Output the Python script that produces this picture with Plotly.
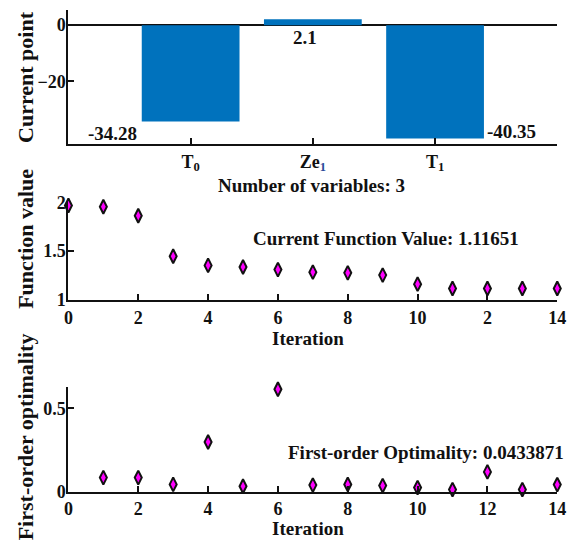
import plotly.graph_objects as go

# ---- data ----
var_names = ["T<sub>0</sub>", "Ze<sub><span style='color:#2a4a9a'>1</span></sub>", "T<sub>1</sub>"]
var_values = [-34.28, 2.1, -40.35]
var_labels = ["-34.28", "2.1", "-40.35"]

iterations = list(range(15))
fvals = [1.967, 1.954, 1.861, 1.447, 1.354, 1.338, 1.311, 1.285, 1.278, 1.255,
         1.162, 1.117, 1.117, 1.117, 1.117]

opt_iters = list(range(1, 15))
opt_vals = [0.085, 0.085, 0.044, 0.298, 0.033, 0.615, 0.040, 0.044, 0.037,
            0.025, 0.013, 0.119, 0.013, 0.043]

iter_ticks = [0, 2, 4, 6, 8, 10, 12, 14]
iter_ticklabels = ["0", "2", "4", "6", "8", "10", "2", "14"]

W, H = 577, 548
BLUE = "#0072BD"
INK = "#111111"
FONT = "Liberation Serif"

def px_x(p):
    return p / W

def px_y(p):
    return (H - p) / H

fig = go.Figure()

fig.add_trace(go.Bar(x=[1, 2, 3], y=var_values, width=0.8, marker=dict(color=BLUE, line=dict(width=0)),
                     xaxis="x", yaxis="y", showlegend=False))

marker = dict(symbol="diamond-tall", size=10, color="#ff00ff", line=dict(color=INK, width=2))
fig.add_trace(go.Scatter(x=iterations, y=fvals, mode="markers", marker=marker,
                         xaxis="x2", yaxis="y2", showlegend=False, cliponaxis=False))
fig.add_trace(go.Scatter(x=opt_iters, y=opt_vals, mode="markers", marker=marker,
                         xaxis="x3", yaxis="y3", showlegend=False, cliponaxis=False))

xdom = [px_x(65), px_x(566)]
tickfont = dict(family=FONT, size=18, color=INK, weight="bold")
axis_common = dict(showline=True, linecolor=INK, linewidth=2, ticks="inside", ticklen=6,
                   tickwidth=2, tickcolor=INK, showgrid=False,
                   tickfont=tickfont)

fig.update_layout(
    width=W, height=H, margin=dict(l=0, r=0, t=0, b=0),
    paper_bgcolor="white", plot_bgcolor="white",
    font=dict(family=FONT, size=19, color=INK, weight="bold"),
    xaxis=dict(domain=xdom, range=[0, 4], tickvals=[1, 2, 3], ticktext=var_names,
               anchor="y", zeroline=False, **axis_common),
    yaxis=dict(domain=[px_y(139), 1.0], range=[-42.3, 5.4], tickvals=[-20, 0],
               anchor="x", zeroline=True, zerolinecolor=INK, zerolinewidth=2,
               ticklabelstandoff=-3, **axis_common),
    xaxis2=dict(domain=xdom, range=[0, 14], tickvals=iter_ticks, ticktext=iter_ticklabels,
                anchor="y2", zeroline=False, **axis_common),
    yaxis2=dict(domain=[px_y(301), px_y(199.5)], range=[1, 2], tickvals=[1, 1.5, 2],
                ticktext=["1", "1.5", "2"], anchor="x2", zeroline=False,
                ticklabelstandoff=-3, **axis_common),
    xaxis3=dict(domain=xdom, range=[0, 14], tickvals=iter_ticks,
                ticktext=[str(t) for t in iter_ticks], anchor="y3", zeroline=False, **axis_common),
    yaxis3=dict(domain=[px_y(500), px_y(391)], range=[0, 0.63], tickvals=[0, 0.5],
                ticktext=["0", "0.5"], anchor="x3", zeroline=False,
                ticklabelstandoff=-3, **axis_common),
)

ann = []
# bar value labels
ann.append(dict(x=1 - 0.4, y=var_values[0], xref="x", yref="y", text=var_labels[0],
                xanchor="right", yanchor="top", xshift=-3, yshift=0, showarrow=False))
ann.append(dict(x=2, y=0, xref="x", yref="y", text=var_labels[1],
                xanchor="center", yanchor="top", xshift=-8, yshift=0, showarrow=False))
ann.append(dict(x=3 + 0.4, y=var_values[2], xref="x", yref="y", text=var_labels[2],
                xanchor="left", yanchor="middle", xshift=1, yshift=7, showarrow=False))

ann.append(dict(x=px_x(314), y=px_y(182), xref="paper", yref="paper",
                text="Number of variables: 3", xanchor="center", yanchor="middle", showarrow=False))
ann.append(dict(x=px_x(311), y=px_y(341), xref="paper", yref="paper",
                text="Iteration", xanchor="center", yanchor="middle", showarrow=False))
ann.append(dict(x=px_x(311), y=px_y(538), xref="paper", yref="paper",
                text="Iteration", xanchor="center", yanchor="middle", showarrow=False))

ann.append(dict(x=px_x(390), y=px_y(237), xref="paper", yref="paper",
                text="Current Function Value: 1.11651", xanchor="center", yanchor="middle",
                showarrow=False))
ann.append(dict(x=px_x(431), y=px_y(459), xref="paper", yref="paper",
                text="First-order Optimality: 0.0433871", xanchor="center", yanchor="middle",
                showarrow=False))

for txt, yc in [("Current point", 69), ("Function value", 237), ("First-order optimality", 443)]:
    ann.append(dict(x=px_x(21), y=px_y(yc), xref="paper", yref="paper", text=txt,
                    textangle=-90, xanchor="center", yanchor="middle", showarrow=False,
                    font=dict(family=FONT, size=22, color=INK, weight="bold")))

fig.update_layout(annotations=ann)

fig.write_html("out.html")
